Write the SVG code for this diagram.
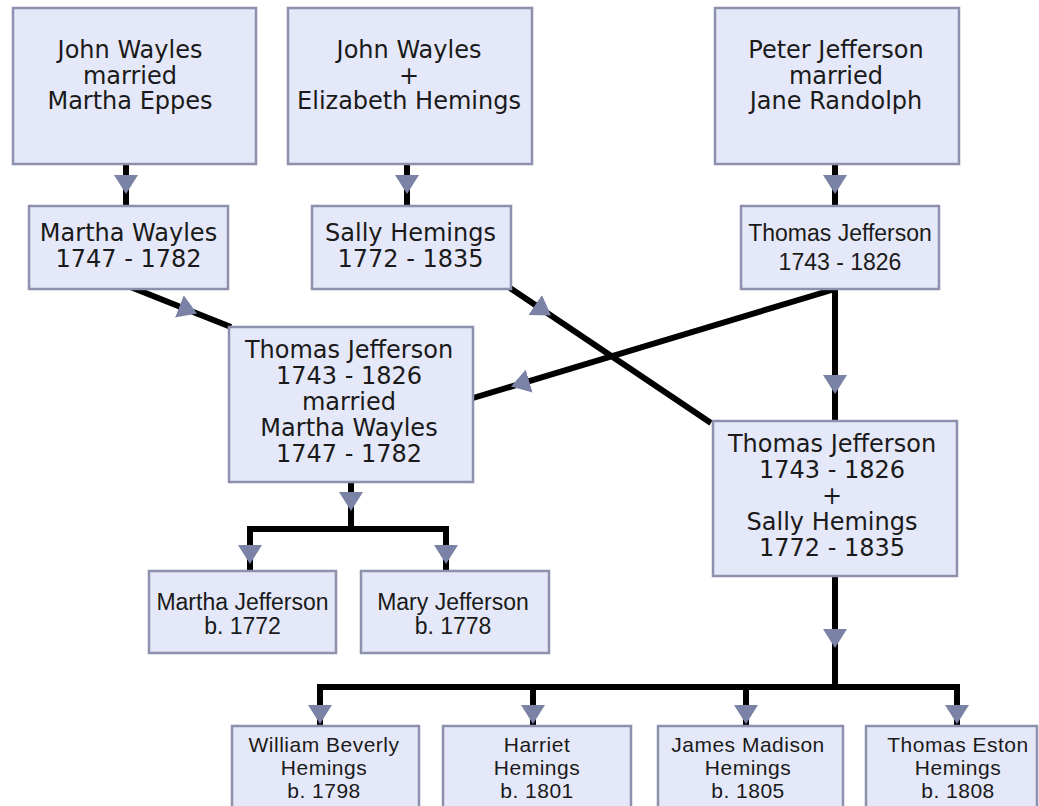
<svg xmlns="http://www.w3.org/2000/svg" width="1039" height="806" viewBox="0 0 1039 806">
<style>
.box{fill:#e5e8f8;stroke:#8d91ad;stroke-width:2.5}
.v{font-family:"DejaVu Sans",Verdana,sans-serif;font-size:24px;fill:#1a1a1a;text-anchor:middle}
.t{font-family:"Liberation Sans",Arial,sans-serif;font-size:23px;fill:#1a1a1a;text-anchor:middle}
.s{font-family:"Liberation Sans",Arial,sans-serif;font-size:21px;letter-spacing:0.5px;fill:#1a1a1a;text-anchor:middle}
.c{fill:none;stroke:#000;stroke-width:6;marker-mid:url(#ah)}
.b{fill:none;stroke:#000;stroke-width:6}
</style>
<defs>
<marker id="ah" markerUnits="userSpaceOnUse" viewBox="0 0 19 24" refX="19" refY="12" markerWidth="19" markerHeight="24" orient="auto">
<path d="M0,0 L19,12 L0,24 Z" fill="#7a82a6"/>
</marker>
</defs>
<rect width="1039" height="806" fill="#fff"/>
<g id="connectors">
<path class="c" d="M126,164 L126,194 L126,206"/>
<path class="c" d="M407,164 L407,194 L407,206"/>
<path class="c" d="M835,164 L835,194 L835,206"/>
<path class="c" d="M128,286 L197,313.5 L231,327"/>
<path class="c" d="M510,288 L551,315.5 L711,423"/>
<path class="c" d="M835,289 L511,386.6 L473,398"/>
<path class="c" d="M835,289 L835,394 L835,421"/>
<path class="c" d="M351,482 L351,511 L351,529"/>
<path class="b" d="M247,529 L449,529"/>
<path class="c" d="M250,529 L250,564 L250,571"/>
<path class="c" d="M446,529 L446,564 L446,571"/>
<path class="c" d="M835,576 L835,648 L835,687"/>
<path class="b" d="M317,687 L960,687"/>
<path class="c" d="M320,687 L320,724 L320,726"/>
<path class="c" d="M533,687 L533,724 L533,726"/>
<path class="c" d="M746,687 L746,724 L746,726"/>
<path class="c" d="M957,687 L957,724 L957,726"/>
</g>
<g id="n1"><rect class="box" x="13" y="8" width="243" height="156"/>
<text class="v"><tspan x="130" y="58">John Wayles</tspan><tspan x="130" y="83.5">married</tspan><tspan x="130" y="109">Martha Eppes</tspan></text></g>
<g id="n2"><rect class="box" x="288" y="8" width="244" height="156"/>
<text class="v"><tspan x="409" y="58">John Wayles</tspan><tspan x="409" y="83.5">+</tspan><tspan x="409" y="109">Elizabeth Hemings</tspan></text></g>
<g id="n3"><rect class="box" x="715" y="8" width="244" height="156"/>
<text class="v"><tspan x="836" y="58">Peter Jefferson</tspan><tspan x="836" y="83.5">married</tspan><tspan x="836" y="109">Jane Randolph</tspan></text></g>
<g id="n4"><rect class="box" x="29" y="206" width="199" height="83"/>
<text class="v"><tspan x="128.5" y="241">Martha Wayles</tspan><tspan x="128.5" y="267">1747 - 1782</tspan></text></g>
<g id="n5"><rect class="box" x="312" y="206" width="199" height="83"/>
<text class="v"><tspan x="410.5" y="241">Sally Hemings</tspan><tspan x="410.5" y="267">1772 - 1835</tspan></text></g>
<g id="n6"><rect class="box" x="741" y="206" width="198" height="83"/>
<text class="t"><tspan x="840" y="241">Thomas Jefferson</tspan><tspan x="840" y="270">1743 - 1826</tspan></text></g>
<g id="n7"><rect class="box" x="229" y="327" width="244" height="155"/>
<text class="v"><tspan x="349" y="358">Thomas Jefferson</tspan><tspan x="349" y="384">1743 - 1826</tspan><tspan x="349" y="410">married</tspan><tspan x="349" y="436">Martha Wayles</tspan><tspan x="349" y="462">1747 - 1782</tspan></text></g>
<g id="n8"><rect class="box" x="713" y="421" width="244" height="155"/>
<text class="v"><tspan x="832" y="452">Thomas Jefferson</tspan><tspan x="832" y="478">1743 - 1826</tspan><tspan x="832" y="503.5">+</tspan><tspan x="832" y="529.5">Sally Hemings</tspan><tspan x="832" y="555.5">1772 - 1835</tspan></text></g>
<g id="n9"><rect class="box" x="149" y="571" width="187" height="82"/>
<text class="t"><tspan x="242.5" y="610">Martha Jefferson</tspan><tspan x="242.5" y="634">b. 1772</tspan></text></g>
<g id="n10"><rect class="box" x="361" y="571" width="188" height="82"/>
<text class="t"><tspan x="453" y="610">Mary Jefferson</tspan><tspan x="453" y="634">b. 1778</tspan></text></g>
<g id="n11"><rect class="box" x="232" y="726" width="187" height="86"/>
<text class="s"><tspan x="324" y="752">William Beverly</tspan><tspan x="324" y="775">Hemings</tspan><tspan x="324" y="798">b. 1798</tspan></text></g>
<g id="n12"><rect class="box" x="443" y="726" width="188" height="86"/>
<text class="s"><tspan x="537" y="752">Harriet</tspan><tspan x="537" y="775">Hemings</tspan><tspan x="537" y="798">b. 1801</tspan></text></g>
<g id="n13"><rect class="box" x="658" y="726" width="185" height="86"/>
<text class="s"><tspan x="748" y="752">James Madison</tspan><tspan x="748" y="775">Hemings</tspan><tspan x="748" y="798">b. 1805</tspan></text></g>
<g id="n14"><rect class="box" x="866" y="726" width="171" height="86"/>
<text class="s"><tspan x="958" y="752">Thomas Eston</tspan><tspan x="958" y="775">Hemings</tspan><tspan x="958" y="798">b. 1808</tspan></text></g>
</svg>
